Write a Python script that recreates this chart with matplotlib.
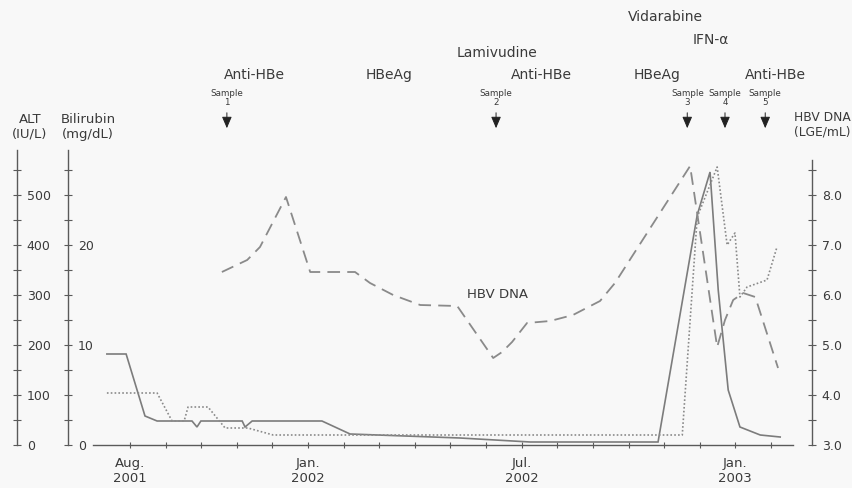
import matplotlib
matplotlib.use('Agg')
import matplotlib.pyplot as plt
from matplotlib import transforms
from matplotlib.ticker import FixedLocator, FixedFormatter, NullFormatter

# ---- data (x = months since Aug. 2001) ----
alt_months = [-0.65, -0.11, 0.42, 0.76, 1.74, 1.88, 1.99, 3.15, 3.23, 3.43, 5.39, 6.18,
              9.27, 11.24, 14.83, 15.93, 16.29, 16.52, 16.80, 17.13, 17.70, 18.26]
alt_values = [182, 182, 58, 48, 48, 36, 48, 48, 36, 48, 48, 22,
              14, 6, 6, 460, 546, 310, 110, 36, 20, 16]

bil_months = [-0.65, 0.76, 1.18, 1.52, 1.63, 2.19, 2.67, 3.31, 4.02, 15.51, 15.93, 16.49,
              16.77, 16.99, 17.13, 17.33, 17.89, 18.17]
bil_values = [5.2, 5.2, 2.4, 2.4, 3.8, 3.8, 1.7, 1.7, 1.0, 1.0, 22.8, 27.8,
              20.0, 21.2, 14.8, 15.8, 16.5, 19.8]

dna_months = [2.58, 3.29, 3.65, 4.38, 5.06, 6.32, 6.74, 7.39, 8.15, 9.19, 10.20, 10.45,
              10.73, 11.15, 11.80, 12.44, 13.20, 13.62, 15.73, 16.49, 16.71, 16.94,
              17.22, 17.56, 18.20]
dna_values = [6.46, 6.70, 6.96, 7.96, 6.46, 6.46, 6.24, 6.00, 5.80, 5.78, 4.74, 4.86,
              5.06, 5.44, 5.48, 5.60, 5.88, 6.24, 8.58, 4.96, 5.50, 5.90,
              6.04, 5.96, 4.54]

month_ticks = list(range(0, 19))
date_label_months = [0, 5, 11, 17]
date_labels = ['Aug.\n2001', 'Jan.\n2002', 'Jul.\n2002', 'Jan.\n2003']

sample_names = ['Sample\n1', 'Sample\n2', 'Sample\n3', 'Sample\n4', 'Sample\n5']
sample_months = [2.72, 10.28, 15.65, 16.71, 17.84]

serology_labels = ['Anti-HBe', 'HBeAg', 'Anti-HBe', 'HBeAg', 'Anti-HBe']
serology_months = [3.48, 7.28, 11.54, 14.80, 18.12]

treatment_labels = ['Lamivudine', 'Vidarabine', 'IFN-α']
treatment_months = [10.31, 15.03, 16.32]
treatment_rows = [53, 17, 40]

alt_major = [0, 100, 200, 300, 400, 500]
alt_minor = [50, 150, 250, 350, 450, 550]
bil_major = [0, 10, 20]
bil_minor = [2.5, 5, 7.5, 12.5, 15, 17.5, 22.5, 25, 27.5]
dna_major = [3.0, 4.0, 5.0, 6.0, 7.0, 8.0]
dna_minor = [3.5, 4.5, 5.5, 6.5, 7.5, 8.5]

# ---- figure ----
W, H = 852, 488
fig = plt.figure(figsize=(W / 100, H / 100), dpi=100, facecolor='#f8f8f8')
TXT = '#3a3a3a'
SP = '#5a5a5a'

ax_l, ax_r = 93, 793
ax_b, ax_t = 445, 145
ax = fig.add_axes([ax_l / W, 1 - ax_b / H, (ax_r - ax_l) / W, (ax_b - ax_t) / H])
ax.set_facecolor('none')
ax.set_xlim(-1.04, 18.62)
ax.set_ylim(0, 600)

for s in ['top', 'left', 'right']:
    ax.spines[s].set_visible(False)
ax.spines['bottom'].set_color(SP)
ax.spines['bottom'].set_linewidth(1.0)
ax.set_yticks([])
ax.set_xticks(month_ticks)
ax.set_xticklabels([date_labels[date_label_months.index(m)] if m in date_label_months else ''
                    for m in month_ticks])
ax.tick_params(axis='x', direction='inout', length=5, width=0.8, color=SP,
               labelsize=9.5, labelcolor=TXT, pad=6)

def fx(px):
    return (px - ax_l) / (ax_r - ax_l)

ax_alt = ax.twinx()
ax_alt.set_ylim(0, 600)
ax_bil = ax.twinx()
ax_bil.set_ylim(0, 30)
ax_dna = ax.twinx()
ax_dna.set_ylim(3, 9)

for a, pos, top, maj, mnr, fmt in [
        (ax_alt, fx(17), 590, alt_major, alt_minor, lambda v: f'{v:d}'),
        (ax_bil, fx(68), 29.5, bil_major, bil_minor, lambda v: f'{v:d}'),
        (ax_dna, fx(812), 8.7, dna_major, dna_minor, lambda v: f'{v:.1f}')]:
    for s in ['top', 'left', 'bottom']:
        a.spines[s].set_visible(False)
    a.spines['right'].set_position(('axes', pos))
    a.spines['right'].set_color(SP)
    a.spines['right'].set_linewidth(1.0)
    lo = a.get_ylim()[0]
    a.spines['right'].set_bounds(lo, top)
    a.yaxis.set_major_locator(FixedLocator(maj))
    a.yaxis.set_major_formatter(FixedFormatter([fmt(v) for v in maj]))
    a.yaxis.set_minor_locator(FixedLocator(mnr))
    a.yaxis.set_minor_formatter(NullFormatter())
    a.tick_params(axis='y', which='both', direction='inout', length=6, width=0.8,
                  color=SP, labelsize=9, labelcolor=TXT, pad=4)
    a.set_facecolor('none')

# data lines
ax_alt.plot(alt_months, alt_values, color='#7c7c7c', lw=1.2, solid_joinstyle='miter')
ax_bil.plot(bil_months, bil_values, color='#8a8a8a', lw=1.2, linestyle=(0, (1, 1.3)))
ax_dna.plot(dna_months, dna_values, color='#8a8a8a', lw=1.3, linestyle=(0, (7, 4)))

def fy(py):
    return 1 - py / H

fig.text(30 / W, fy(127), 'ALT\n(IU/L)', ha='center', va='center', fontsize=9.5,
         color=TXT, linespacing=1.15)
fig.text(88 / W, fy(127), 'Bilirubin\n(mg/dL)', ha='center', va='center', fontsize=9.5,
         color=TXT, linespacing=1.15)
fig.text(822 / W, fy(125), 'HBV DNA\n(LGE/mL)', ha='center', va='center', fontsize=8.8,
         color=TXT, linespacing=1.2)

ax_dna.text(10.31, 6.0, 'HBV DNA', ha='center', va='center', fontsize=9.5, color=TXT)

bt = transforms.blended_transform_factory(ax.transData, fig.transFigure)
for lab, m in zip(serology_labels, serology_months):
    ax.text(m, fy(75), lab, transform=bt, ha='center', va='center', fontsize=10,
            color=TXT, clip_on=False)
for lab, m, row in zip(treatment_labels, treatment_months, treatment_rows):
    ax.text(m, fy(row), lab, transform=bt, ha='center', va='center', fontsize=10,
            color=TXT, clip_on=False)
for lab, m in zip(sample_names, sample_months):
    ax.text(m, fy(98), lab, transform=bt, ha='center', va='center', fontsize=6.3,
            color=TXT, linespacing=1.1, clip_on=False)
    ax.annotate('', xy=(m, fy(131)), xycoords=bt, xytext=(m, fy(110)), textcoords=bt,
                arrowprops=dict(arrowstyle='-|>,head_length=0.7,head_width=0.3',
                                color='#222222', lw=0.7), annotation_clip=False)

fig.savefig('out.png', dpi=100, facecolor=fig.get_facecolor())
